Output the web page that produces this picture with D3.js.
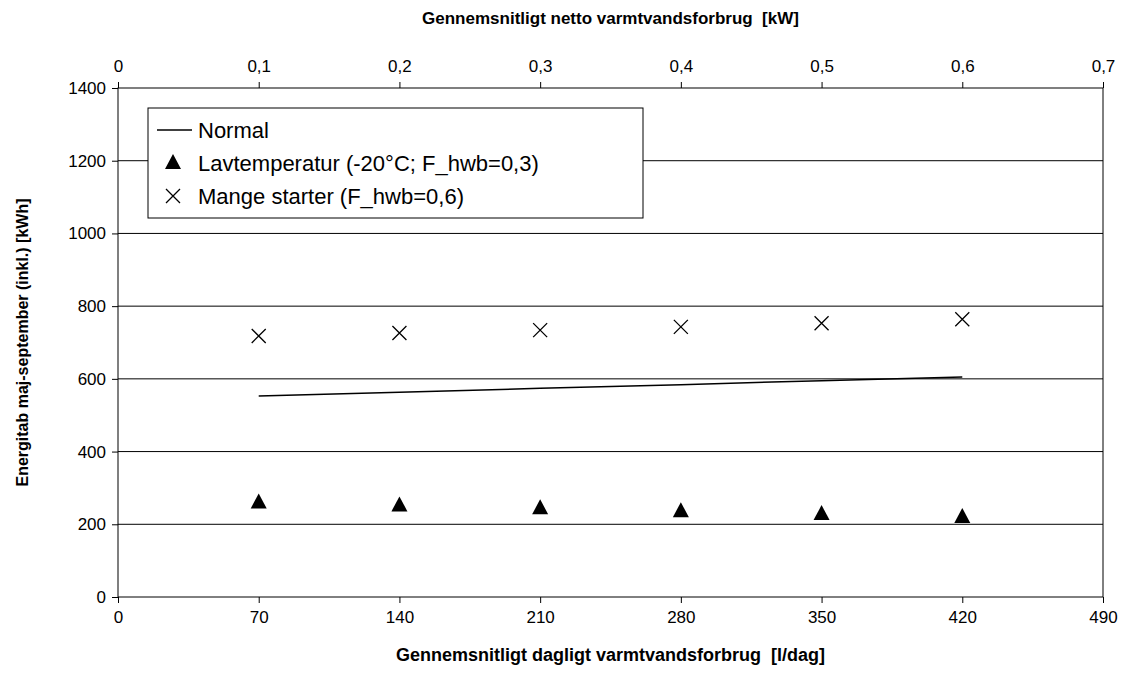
<!DOCTYPE html>
<html><head><meta charset="utf-8">
<script src="https://cdn.jsdelivr.net/npm/d3@7"></script>
<style>body{margin:0;background:#fff;font-family:Arial,"Liberation Sans",sans-serif} text{white-space:pre}</style>
</head><body><div class="canvas"></div>
<script>
const xVals = [70, 140, 210, 280, 350, 420];
const normal = [553, 563, 574, 584, 595, 605];
const lavtemp = [260, 252, 244, 236, 228, 220];
const mange = [718, 726, 734, 743, 753, 764];
const xTicks = [0, 70, 140, 210, 280, 350, 420, 490];
const topTicks = [0, 0.1, 0.2, 0.3, 0.4, 0.5, 0.6, 0.7];
const yTicks = [0, 200, 400, 600, 800, 1000, 1200, 1400];

const W = 1125, H = 683;
const m = { left: 118, right: 22, top: 88, bottom: 86 };

const svg = d3.select('.canvas').append('svg').attr('width', W).attr('height', H)
  .style('font-family', 'Arial, Liberation Sans, sans-serif');

const x = d3.scaleLinear().domain([0, 490]).range([m.left, W - m.right]);
const xTop = d3.scaleLinear().domain([0, 0.7]).range([m.left, W - m.right]);
const y = d3.scaleLinear().domain([0, 1400]).range([H - m.bottom, m.top]);
const fmt = d => String(d).replace('.', ',');

// grid
svg.append('g').selectAll('line').data(yTicks.slice(1, -1)).join('line')
  .attr('x1', m.left).attr('x2', W - m.right)
  .attr('y1', d => y(d)).attr('y2', d => y(d))
  .attr('stroke', '#000').attr('stroke-width', 1);

svg.append('rect').attr('x', m.left).attr('y', m.top)
  .attr('width', W - m.left - m.right).attr('height', H - m.top - m.bottom)
  .attr('fill', 'none').attr('stroke', '#000');

const styleAxis = g => {
  g.attr('font-size', null).attr('font-family', null);
  g.select('.domain').remove();
  g.selectAll('text').style('font-size', '17px').attr('fill', '#000');
};

svg.append('g').attr('transform', `translate(0,${H - m.bottom})`)
  .call(d3.axisBottom(x).tickValues(xTicks).tickFormat(d3.format('d')).tickSize(6).tickPadding(8)).call(styleAxis);
svg.append('g').attr('transform', `translate(0,${m.top})`)
  .call(d3.axisTop(xTop).tickValues(topTicks).tickFormat(fmt).tickSize(6).tickPadding(10)).call(styleAxis);
svg.append('g').attr('transform', `translate(${m.left},0)`)
  .call(d3.axisLeft(y).tickValues(yTicks).tickFormat(d3.format('d')).tickSize(6).tickPadding(6)).call(styleAxis);

// titles
svg.append('text').attr('x', (m.left + W - m.right) / 2).attr('y', 661)
  .attr('text-anchor', 'middle').attr('font-weight', 'bold').style('font-size', '18px')
  .text('Gennemsnitligt dagligt varmtvandsforbrug  [l/dag]');
svg.append('text').attr('x', (m.left + W - m.right) / 2).attr('y', 24)
  .attr('text-anchor', 'middle').attr('font-weight', 'bold').style('font-size', '17px')
  .text('Gennemsnitligt netto varmtvandsforbrug  [kW]');
svg.append('text').attr('transform', `translate(28,${(m.top + H - m.bottom) / 2}) rotate(-90)`)
  .attr('text-anchor', 'middle').attr('font-weight', 'bold').style('font-size', '16px')
  .text('Energitab maj-september (inkl.) [kWh]');

// normal line
svg.append('path').datum(xVals.map((v, i) => [v, normal[i]]))
  .attr('d', d3.line().x(d => x(d[0])).y(d => y(d[1])))
  .attr('fill', 'none').attr('stroke', '#000').attr('stroke-width', 1.5);

// triangles
svg.append('g').selectAll('path').data(xVals.map((v, i) => [v, lavtemp[i]])).join('path')
  .attr('transform', d => `translate(${x(d[0])},${y(d[1])})`)
  .attr('d', 'M0,-9L8,6L-8,6Z').attr('fill', '#000');

// crosses
const cross = 'M-7,-7L7,7M-7,7L7,-7';
svg.append('g').selectAll('path').data(xVals.map((v, i) => [v, mange[i]])).join('path')
  .attr('transform', d => `translate(${x(d[0])},${y(d[1])})`)
  .attr('d', cross).attr('stroke', '#000').attr('stroke-width', 1.3);

// legend
const lg = svg.append('g');
lg.append('rect').attr('x', 148).attr('y', 108).attr('width', 495).attr('height', 110)
  .attr('fill', '#fff').attr('stroke', '#000');
const items = ['Normal', 'Lavtemperatur (-20°C; F_hwb=0,3)', 'Mange starter (F_hwb=0,6)'];
items.forEach((t, i) => {
  const cy = 130 + i * 33;
  if (i === 0) lg.append('line').attr('x1', 157).attr('x2', 192).attr('y1', cy).attr('y2', cy).attr('stroke', '#000').attr('stroke-width', 1.5);
  if (i === 1) lg.append('path').attr('transform', `translate(173,${cy})`).attr('d', 'M0,-9L8,6L-8,6Z');
  if (i === 2) lg.append('path').attr('transform', `translate(173,${cy})`).attr('d', cross).attr('stroke', '#000').attr('stroke-width', 1.3);
  lg.append('text').attr('x', 198).attr('y', cy + 8).style('font-size', '22px').text(t);
});
</script></body></html>
